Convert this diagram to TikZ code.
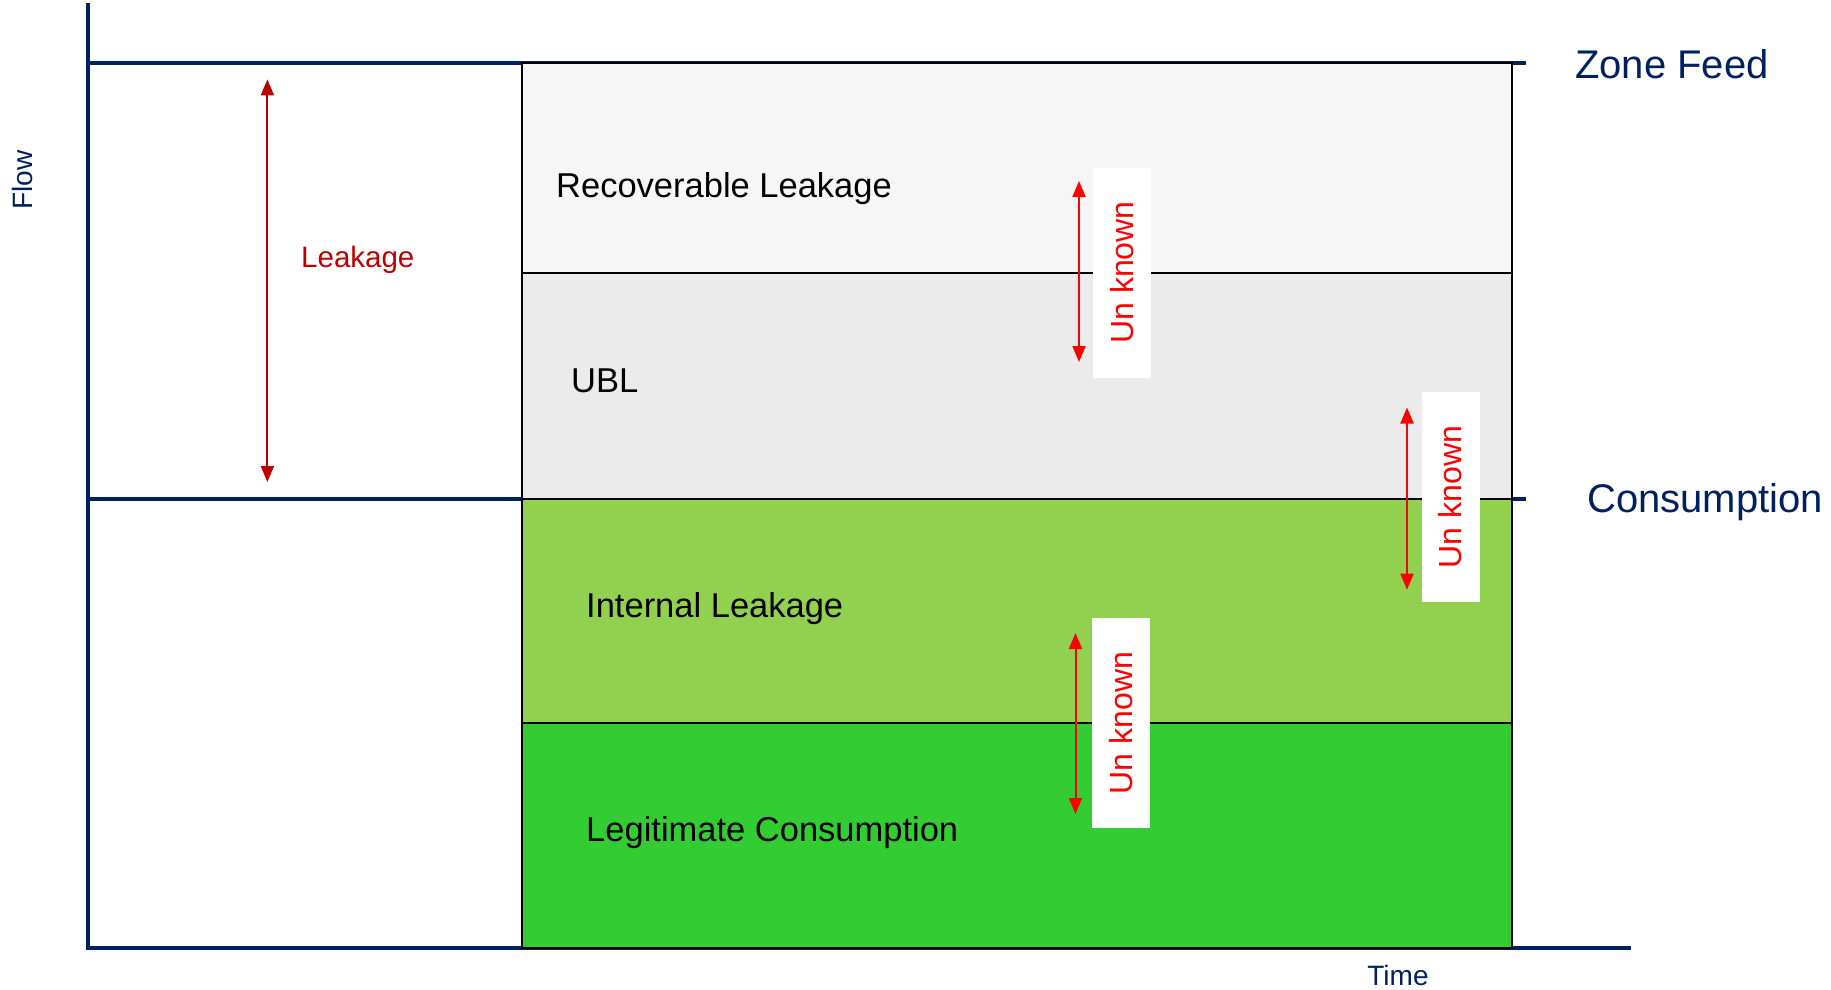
\documentclass[tikz,border=0pt]{standalone}
\usepackage{fontspec}
\setmainfont{Liberation Sans}
\usetikzlibrary{arrows.meta}
\definecolor{cAxis}{HTML}{002060}
\definecolor{cRecov}{HTML}{F6F6F6}
\definecolor{cUbl}{HTML}{EBEBEB}
\definecolor{cInternal}{HTML}{92D050}
\definecolor{cLegit}{HTML}{33CC33}
\definecolor{cLeak}{HTML}{C00000}
\definecolor{cUnknown}{HTML}{FF0000}
\tikzset{
  axis/.style = {
    draw=cAxis,
    line width=4pt
  },
  band/.style = {
    draw=black,
    line width=2pt
  },
  bandtext/.style = {
    anchor=base west,
    inner sep=0pt,
    font=\fontsize{34.5}{40}\selectfont
  },
  level/.style = {
    anchor=base,
    inner sep=0pt,
    text=cAxis,
    font=\fontsize{40}{46}\selectfont
  },
  axlabel/.style = {
    inner sep=0pt,
    text=cAxis,
    font=\fontsize{28}{32}\selectfont
  },
  unknown/.style = {
    rotate=90,
    fill=white,
    text=cUnknown,
    minimum width=210pt,
    minimum height=58pt,
    inner sep=0pt,
    font=\fontsize{32}{36}\selectfont
  },
  dim/.style = {
    draw,
    line width=2pt,
    {Triangle[length=16pt,width=13pt]}-{Triangle[length=16pt,width=13pt]}
  },
}
\begin{document}
\begin{tikzpicture}[x=1pt, y=-1pt]
    \useasboundingbox (0,0) rectangle (1831,990);
    \coordinate (y-top) at (87.6,3.5);
    \coordinate (origin) at (87.6,948);
    \coordinate (x-end) at (1631,948);
    \coordinate (feed-start) at (87.6,63);
    \coordinate (feed-end) at (1526,63);
    \coordinate (cons-start) at (87.6,498.6);
    \coordinate (cons-end) at (1526,498.6);
    % axes and levels
    \path [axis] (y-top) -- (origin) -- (x-end);
    \path [axis] (feed-start) -- (feed-end);
    \path [axis] (cons-start) -- (cons-end);
    % stacked bands
    \path [band, fill=cRecov] (522,63) rectangle (1512,273);
    \path [band, fill=cUbl] (522,273) rectangle (1512,498.6);
    \path [band, fill=cInternal] (522,498.6) rectangle (1512,723);
    \path [band, fill=cLegit] (522,723) rectangle (1512,948);
    \node [bandtext] (band-1) at (556,197) {Recoverable Leakage};
    \node [bandtext] (band-2) at (571,392) {UBL};
    \node [bandtext] (band-3) at (586,617.5) {Internal Leakage};
    \node [bandtext] (band-4) at (586,841.5) {Legitimate Consumption};
    \node [level] (zone-feed) at (1672,78.3) {Zone Feed};
    \node [level] (consumption) at (1705,512) {Consumption};
    \node [axlabel, rotate=90] (flow) at (22,180) {Flow};
    \node [axlabel, anchor=base] (time) at (1398,985) {Time};
    \node [anchor=base west, inner sep=0pt, text=cLeak, font=\fontsize{29.5}{34}\selectfont] (leakage) at (301,267) {Leakage};
    \node [unknown] (unk-1) at (1122,272.5) {Un known};
    \node [unknown] (unk-2) at (1450.5,497) {Un known};
    \node [unknown] (unk-3) at (1121,723) {Un known};
    \coordinate (leak-top) at (267.4,79.4);
    \coordinate (leak-bot) at (267.4,482);
    \coordinate (unk-1-top) at (1079,181);
    \coordinate (unk-1-bot) at (1079,362);
    \coordinate (unk-2-top) at (1407,407.5);
    \coordinate (unk-2-bot) at (1407,589.7);
    \coordinate (unk-3-top) at (1075.5,633);
    \coordinate (unk-3-bot) at (1075.5,814);
    \path [dim, cLeak] (leak-top) -- (leak-bot);
    \path [dim, cUnknown] (unk-1-top) -- (unk-1-bot);
    \path [dim, cUnknown] (unk-2-top) -- (unk-2-bot);
    \path [dim, cUnknown] (unk-3-top) -- (unk-3-bot);
  \end{tikzpicture}
\end{document}
